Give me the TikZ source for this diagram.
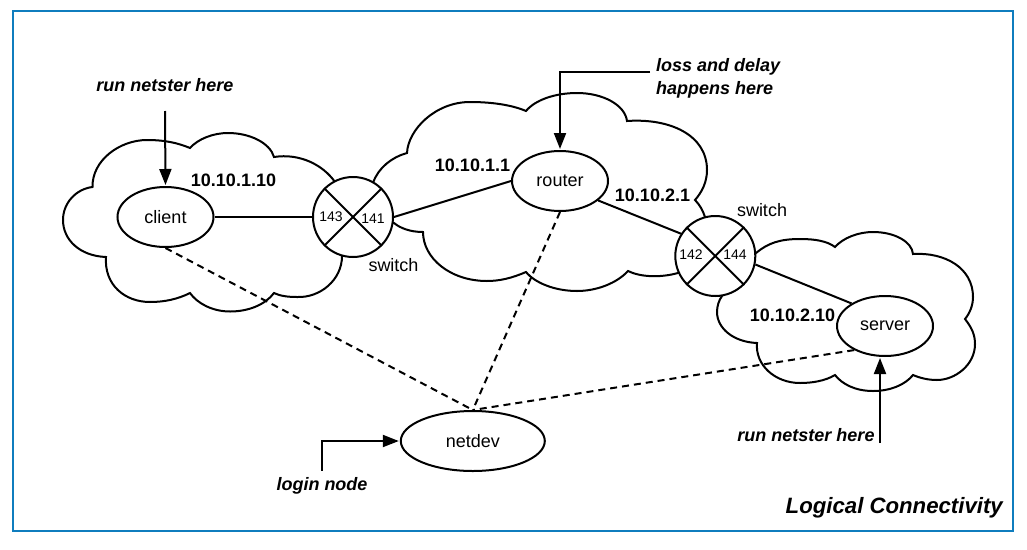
\documentclass[tikz,border=0pt]{standalone}
\usepackage{fontspec}
\setmainfont{Liberation Sans}
\usetikzlibrary{shapes.geometric, arrows.meta, positioning}

\begin{document}
\begin{tikzpicture}[
  x=1pt, y=-1pt,
  host/.style={ellipse, draw=black, fill=white, line width=2pt, minimum width=96pt, minimum height=60pt, inner sep=0pt, font=\fontsize{18}{20}\selectfont},
  switchnode/.style={circle, draw=black, fill=white, line width=2pt, minimum size=80pt, inner sep=0pt},
  port/.style={font=\fontsize{14}{16}\selectfont, inner sep=0pt},
  swlabel/.style={font=\fontsize{18}{20}\selectfont, inner sep=0pt},
  addr/.style={font=\fontsize{18}{20}\bfseries\selectfont, inner sep=0pt},
  note/.style={font=\fontsize{18}{22.500}\bfseries\itshape\selectfont, inner sep=0pt, align=left},
  cloud/.style={draw=black, line width=2pt},
  link/.style={draw=black, line width=2pt},
  dashlink/.style={draw=black, line width=2pt, dash pattern=on 7pt off 5pt},
  arrow/.style={-{Triangle[length=16pt, width=12pt]}, draw=black, line width=2pt, shorten >=1pt}
]
\useasboundingbox (0,0) rectangle (1027,549);
\node[draw={rgb,255:red,15;green,125;blue,190}, line width=2pt, minimum width=1000pt, minimum height=520pt, inner sep=0pt] (frame) at (513,271) {};

% clouds
\draw[cloud] (92.5,187) .. controls (92,160) and (120,140) .. (147,140) .. controls (165,140) and (178,143) .. (190,148)
  .. controls (198,139) and (213,133) .. (228,133) .. controls (250,133) and (270,143) .. (274,157)
  .. controls (300,153) and (323,165) .. (335,182) .. controls (345,190) and (348,240) .. (342,256)
  .. controls (342,280) and (320,298) .. (297,297) .. controls (288,297) and (280,296) .. (274,293)
  .. controls (265,305) and (248,311.5) .. (230,311.5) .. controls (212,311.5) and (197,303) .. (190,293)
  .. controls (178,299) and (165,302) .. (150,302) .. controls (125,302) and (104,285) .. (106,257)
  .. controls (80,256) and (63,240) .. (63,220) .. controls (63,203) and (76,189) .. (92.5,187) -- cycle;
\draw[cloud] (407,153) .. controls (408,130) and (435,102) .. (470,102) .. controls (492,102) and (512,105) .. (526,111)
  .. controls (535,100) and (555,93) .. (577,93) .. controls (603,93) and (625,105) .. (627,121)
  .. controls (670,118) and (707,135) .. (707,170) .. controls (707,182) and (702,192) .. (695,200)
  .. controls (700,205) and (703,211) .. (705,217) .. controls (720,240) and (705,270) .. (678,273)
  .. controls (660,278) and (640,277) .. (628,271)
  .. controls (617,283) and (597,291) .. (577,291) .. controls (555,291) and (535,283) .. (526,272)
  .. controls (512,278) and (500,281) .. (487,281) .. controls (450,281) and (423,258) .. (423,232)
  .. controls (410,232) and (400,228) .. (394,223) .. controls (370,215) and (365,200) .. (373,183)
  .. controls (378,168) and (392,157) .. (407,153) -- cycle;
\draw[cloud] (756,253) .. controls (768,243) and (780,239) .. (800,239) .. controls (815,239) and (827,241) .. (835,247)
  .. controls (843,238) and (858,232) .. (873,232) .. controls (895,232) and (912,242) .. (913,254)
  .. controls (945,252) and (973,268) .. (973,297) .. controls (973,305) and (970,313) .. (965,319)
  .. controls (972,328) and (975,335) .. (975,344) .. controls (975,365) and (955,380) .. (937,380) .. controls (928,380) and (920,378) .. (913,375)
  .. controls (905,385) and (890,391) .. (873,391) .. controls (855,391) and (842,384) .. (835,375)
  .. controls (825,381) and (812,383) .. (800,383) .. controls (775,383) and (755,365) .. (757,343)
  .. controls (733,342) and (717,328) .. (717,312) .. controls (717,306) and (719,300) .. (722,296) -- cycle;

\node[host] (client) at (165.5,217) {client};
\node[host] (router) at (560,181) {router};
\node[host] (server) at (885,326) {server};
\node[host, minimum width=144pt] (netdev) at (472.8,441) {netdev};
\node[switchnode] (swleft) at (353,217) {};
\node[switchnode] (swright) at (715.3,256) {};

% crossed switches
\draw[link] (swleft.45) -- (swleft.225);
\draw[link] (swleft.135) -- (swleft.315);
\draw[link] (swright.45) -- (swright.225);
\draw[link] (swright.135) -- (swright.315);

\node[port] (p143) at (331,217) {143};
\node[port] (p141) at (373,219) {141};
\node[port] (p142) at (691,254.500) {142};
\node[port] (p144) at (735,254.500) {144};
\node[swlabel] (swlblleft) at (393.500,265) {switch};
\node[swlabel] (swlblright) at (762,210) {switch};

\node[addr] (ipclient) at (233.500,180) {10.10.1.10};
\node[addr] (iprouterl) at (472.500,165) {10.10.1.1};
\node[addr] (iprouterr) at (652.500,195) {10.10.2.1};
\node[addr] (ipserver) at (792.500,315) {10.10.2.10};

\node[note] (runclient) at (165,85) {run netster here};
\node[note, anchor=west] (lossnote) at (656,78.500) {loss and delay\\happens here};
\node[note] (runserver) at (806,435) {run netster here};
\node[note] (loginnote) at (322,486) {login node};
\node[font=\fontsize{22.200}{24}\bfseries\itshape\selectfont, inner sep=0pt, anchor=east] (title) at (1003,507.500) {Logical Connectivity};

\coordinate (clientfoot) at (165,111);
\coordinate (lossfoot) at (650,71.500);
\coordinate (serverfoot) at (880,443);
\coordinate (loginfoot) at (322,470.500);

% links
\draw[link] (client.east) -- (swleft.west);
\draw[link] (swleft.east) -- (router.west);
\draw[link] (router.-27) -- (swright.147);
\draw[link] (swright.-12) -- (server.146);
\draw[dashlink] (client.south) -- (netdev.north);
\draw[dashlink] (router.south) -- (netdev.north);
\draw[dashlink] (server.218) -- (netdev.north);

% arrows
\draw[arrow] (clientfoot) -- (client.north);
\draw[arrow] (lossfoot) -| (router.north);
\draw[arrow] (serverfoot) -- (serverfoot |- server.south);
\draw[arrow] (loginfoot) |- (netdev.west);

\end{tikzpicture}
\end{document}
